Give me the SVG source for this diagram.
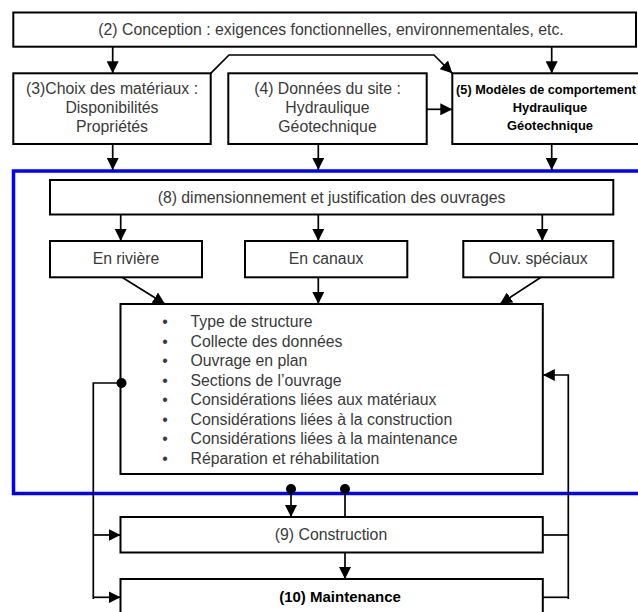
<svg xmlns="http://www.w3.org/2000/svg" width="638" height="612" viewBox="0 0 638 612">
<defs>
<marker id="arr" viewBox="0 0 12 12" refX="12" refY="6" markerWidth="12" markerHeight="12" markerUnits="userSpaceOnUse" orient="auto">
<path d="M0,0 L12,6 L0,12 z" fill="#000"/>
</marker>
</defs>
<style>
.box{fill:#fff;stroke:#000;stroke-width:2}
.t{font-family:"Liberation Sans",Arial,Helvetica,sans-serif;font-size:15.8px;fill:#3a3a3a}
.c{text-anchor:middle}
.b{font-family:"Liberation Sans",Arial,Helvetica,sans-serif;font-weight:bold;fill:#000;text-anchor:middle}
.ln{fill:none;stroke:#000;stroke-width:1.7}
.ar{fill:none;stroke:#000;stroke-width:1.7;marker-end:url(#arr)}
.dot{fill:#000}
</style>
<rect width="638" height="612" fill="#fff"/>
<g id="frame8">
<rect x="13.5" y="171" width="700" height="322.5" fill="none" stroke="#0000ff" stroke-width="3.5"/>
</g>
<g id="n2">
<rect class="box" x="13.3" y="12.5" width="622.7" height="34.2"/>
<text class="t c" x="331" y="35">(2) Conception : exigences fonctionnelles,  environnementales, etc.</text>
</g>
<g id="n3">
<rect class="box" x="13.3" y="73.3" width="197.4" height="70.7"/>
<text class="t c" x="112" y="94">(3)Choix des matériaux :</text>
<text class="t c" x="112" y="113">Disponibilités</text>
<text class="t c" x="112" y="132">Propriétés</text>
</g>
<g id="n4">
<rect class="box" x="228.3" y="73.3" width="198.4" height="70.7"/>
<text class="t c" x="327.5" y="94">(4) Données du site :</text>
<text class="t c" x="327.5" y="113">Hydraulique</text>
<text class="t c" x="327.5" y="132">Géotechnique</text>
</g>
<g id="n5">
<rect class="box" x="452.3" y="73.3" width="260" height="70.7"/>
<text class="b" x="546" y="94" font-size="12.7">(5) Modèles de comportement</text>
<text class="b" x="550" y="112" font-size="12.9">Hydraulique</text>
<text class="b" x="550" y="130" font-size="12.9">Géotechnique</text>
</g>
<g id="n8">
<rect class="box" x="50" y="180" width="563.3" height="34.5"/>
<text class="t c" x="331.5" y="202.5">(8) dimensionnement et justification des ouvrages</text>
</g>
<g id="nRiviere">
<rect class="box" x="50" y="241" width="152" height="36.3"/>
<text class="t c" x="126" y="264">En rivière</text>
</g>
<g id="nCanaux">
<rect class="box" x="245" y="241" width="162.3" height="36.3"/>
<text class="t c" x="326" y="264">En canaux</text>
</g>
<g id="nSpeciaux">
<rect class="box" x="463.3" y="241" width="150" height="36.3"/>
<text class="t c" x="538.3" y="264">Ouv. spéciaux</text>
</g>
<g id="nListe">
<rect class="box" x="120.5" y="304" width="422.3" height="170"/>
<g class="t">
<text x="165" y="327" class="c">•</text><text x="190.5" y="327">Type de structure</text>
<text x="165" y="346.5" class="c">•</text><text x="190.5" y="346.5">Collecte des données</text>
<text x="165" y="366" class="c">•</text><text x="190.5" y="366">Ouvrage en plan</text>
<text x="165" y="385.5" class="c">•</text><text x="190.5" y="385.5">Sections de l’ouvrage</text>
<text x="165" y="405" class="c">•</text><text x="190.5" y="405">Considérations liées aux matériaux</text>
<text x="165" y="424.5" class="c">•</text><text x="190.5" y="424.5">Considérations liées à la construction</text>
<text x="165" y="444" class="c">•</text><text x="190.5" y="444">Considérations liées à la maintenance</text>
<text x="165" y="463.5" class="c">•</text><text x="190.5" y="463.5">Réparation et réhabilitation</text>
</g>
</g>
<g id="n9">
<rect class="box" x="120.5" y="517" width="422.3" height="35.5"/>
<text class="t c" x="331" y="540">(9) Construction</text>
</g>
<g id="n10">
<rect class="box" x="120.5" y="579" width="422.3" height="60"/>
<text class="b" x="340" y="602" font-size="15">(10) Maintenance</text>
</g>
<g id="connectors">
<line class="ar" x1="112.7" y1="46.7" x2="112.7" y2="73.3"/>
<line class="ar" x1="551.7" y1="46.7" x2="551.7" y2="73.3"/>
<polyline class="ar" points="210.7,73.3 229,55 434,55 452.3,73.3"/>
<line class="ar" x1="426.7" y1="109.3" x2="452.3" y2="109.3"/>
<line class="ar" x1="112.7" y1="144" x2="112.7" y2="170"/>
<line class="ar" x1="318.3" y1="144" x2="318.3" y2="170"/>
<line class="ar" x1="551.7" y1="144" x2="551.7" y2="170"/>
<line class="ar" x1="120.7" y1="214.5" x2="120.7" y2="241"/>
<line class="ar" x1="318.3" y1="214.5" x2="318.3" y2="241"/>
<line class="ar" x1="542.3" y1="214.5" x2="542.3" y2="241"/>
<line class="ar" x1="122" y1="277.3" x2="165" y2="304"/>
<line class="ar" x1="318.3" y1="277.3" x2="318.3" y2="304"/>
<line class="ar" x1="541" y1="277.3" x2="500" y2="304"/>
<polyline class="ln" points="121,383 93.3,383 93.3,599"/>
<line class="ar" x1="93.3" y1="535" x2="120.5" y2="535"/>
<line class="ar" x1="93.3" y1="597.3" x2="120.5" y2="597.3"/>
<circle class="dot" cx="121.5" cy="383" r="5"/>
<polyline class="ln" points="542.8,535 568.3,535"/>
<polyline class="ln" points="542.8,597.3 568.3,597.3"/>
<polyline class="ar" points="568.3,599 568.3,375 542.8,375"/>
<circle class="dot" cx="291" cy="489" r="5"/>
<circle class="dot" cx="345" cy="489" r="5"/>
<line class="ar" x1="291" y1="489" x2="291" y2="517"/>
<line class="ln" x1="345" y1="489" x2="345" y2="517"/>
<line class="ar" x1="345" y1="552.5" x2="345" y2="579"/>
</g>
</svg>
